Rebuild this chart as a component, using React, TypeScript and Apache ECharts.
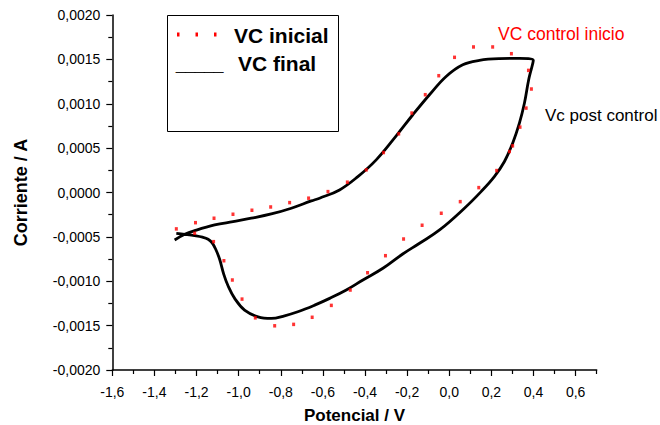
import React, { useEffect, useRef } from "react";
import * as echarts from "echarts";

// VC inicial (red dotted curve): potential (V) and current (A)
const potencialInicial = [
  -1.296, -1.205, -1.117, -1.027, -0.937, -0.848, -0.758, -0.668, -0.576, -0.484,
  -0.394, -0.312, -0.24, -0.178, -0.114, -0.05, 0.025, 0.115, 0.206, 0.295,
  0.376, 0.39, 0.365, 0.336, 0.301, 0.286, 0.225, 0.14, 0.052, -0.038,
  -0.129, -0.217, -0.303, -0.388, -0.47, -0.56, -0.651, -0.739, -0.829, -0.921,
  -0.984, -1.03, -1.07, -1.119, -1.209,
];
const corrienteInicial = [
  -0.00041, -0.00034, -0.00029, -0.000245, -0.0002, -0.000163, -0.000114, -0.000064, 0.00001, 0.000116,
  0.000255, 0.00045, 0.000661, 0.000895, 0.001102, 0.001316, 0.001523, 0.00164, 0.00164, 0.001564,
  0.001376, 0.001166, 0.000951, 0.000737, 0.000526, 0.000462, 0.000247, 0.000055, -0.000103, -0.000234,
  -0.000369, -0.000524, -0.000712, -0.000904, -0.001099, -0.001272, -0.001406, -0.001486, -0.001502, -0.001412,
  -0.001201, -0.000986, -0.000769, -0.000554, -0.000459,
];

// VC final (black solid curve)
const potencialFinal = [
  -1.304, -1.256, -1.209, -1.114, -1.027, -0.94, -0.845, -0.75, -0.655, -0.616,
  -0.521, -0.434, -0.347, -0.252, -0.173, -0.094, -0.015, 0.064, 0.143, 0.238,
  0.333, 0.399, 0.377, 0.357, 0.333, 0.301, 0.262, 0.214, 0.151, 0.072,
  -0.046, -0.141, -0.221, -0.315, -0.41, -0.489, -0.568, -0.639, -0.719, -0.782,
  -0.845, -0.908, -0.972, -1.019, -1.05, -1.071, -1.09, -1.108, -1.126, -1.145,
  -1.172, -1.209, -1.256, -1.296,
];
const corrienteFinal = [
  -0.000535, -0.000471, -0.00043, -0.000366, -0.000328, -0.00029, -0.000242, -0.000177, -0.000095, -0.000064,
  0.000029, 0.000179, 0.000368, 0.000639, 0.000876, 0.001101, 0.001308, 0.00144, 0.001489, 0.001508,
  0.001511, 0.001489, 0.001271, 0.001008, 0.000782, 0.000556, 0.000349, 0.000179, 0.00001, -0.000177,
  -0.000422, -0.000572, -0.000693, -0.000854, -0.000986, -0.001099, -0.001193, -0.001269, -0.001344, -0.001389,
  -0.001419, -0.001401, -0.001325, -0.001193, -0.001054, -0.000919, -0.000755, -0.000645, -0.000568, -0.000527,
  -0.000503, -0.000486, -0.000471, -0.00046,
];

// Axis ticks
const xMajorTicks = [-1.6, -1.4, -1.2, -1.0, -0.8, -0.6, -0.4, -0.2, 0.0, 0.2, 0.4, 0.6];
const xMinorTicks = [-1.5, -1.3, -1.1, -0.9, -0.7, -0.5, -0.3, -0.1, 0.1, 0.3, 0.5, 0.7];
const xMin = -1.6;
const xMax = 0.7;
const yMin = -0.002;
const yMax = 0.002;
const yInterval = 0.0005;

const legendTexts = ["VC inicial", "VC final"];
const annotationInicio = "VC control inicio";
const annotationPost = "Vc post control";

const FONT = "'Liberation Sans', Arial, Helvetica, sans-serif";

export default function App() {
  const ref = useRef<HTMLDivElement>(null);

  useEffect(() => {
    if (!ref.current) return;
    const chart = echarts.init(ref.current, undefined, { renderer: "svg" });

    const inicialData = potencialInicial.map((v, i) => [v, corrienteInicial[i]]);
    const finalData = potencialFinal.map((v, i) => [v, corrienteFinal[i]]);

    const fmtX = (v: number) => v.toFixed(1).replace(".", ",");
    const fmtY = (v: number) => v.toFixed(4).replace(".", ",");

    chart.setOption({
      animation: false,
      backgroundColor: "#ffffff",
      grid: {
        left: 112.3,
        right: 63.3,
        top: 15,
        bottom: 55,
        containLabel: false,
        outerBoundsMode: "none",
      },
      xAxis: [
        {
          type: "value",
          min: xMin,
          max: xMax,
          name: "Potencial / V",
          nameLocation: "middle",
          nameGap: 37,
          nameMoveOverlap: false,
          nameTextStyle: { fontFamily: FONT, fontSize: 17, fontWeight: "bold", color: "#000" },
          axisLine: { show: true, onZero: false, lineStyle: { color: "#000", width: 1.5 } },
          axisTick: { show: true, length: 6, customValues: xMajorTicks, lineStyle: { color: "#000", width: 1.2 } },
          axisLabel: {
            customValues: xMajorTicks,
            formatter: (v: number) => fmtX(v),
            margin: 15,
            fontFamily: FONT,
            fontSize: 14,
            color: "#000",
          },
          splitLine: { show: false },
        },
        {
          type: "value",
          min: xMin,
          max: xMax,
          position: "bottom",
          axisLine: { show: false, onZero: false },
          axisTick: { show: true, length: 4, customValues: xMinorTicks, lineStyle: { color: "#000", width: 1.2 } },
          axisLabel: { show: false },
          splitLine: { show: false },
        },
      ],
      yAxis: {
        type: "value",
        min: yMin,
        max: yMax,
        interval: yInterval,
        name: "Corriente / A",
        nameLocation: "middle",
        nameGap: 82,
        nameMoveOverlap: false,
        nameTextStyle: { fontFamily: FONT, fontSize: 18, fontWeight: "bold", color: "#000" },
        axisLine: { show: true, onZero: false, lineStyle: { color: "#000", width: 1.5 } },
        axisTick: { show: true, length: 6, lineStyle: { color: "#000", width: 1.2 } },
        minorTick: { show: true, splitNumber: 2, length: 4, lineStyle: { color: "#000", width: 1.2 } },
        axisLabel: {
          formatter: (v: number) => fmtY(v),
          margin: 12,
          fontFamily: FONT,
          fontSize: 14,
          color: "#000",
        },
        splitLine: { show: false },
      },
      series: [
        {
          name: legendTexts[0],
          type: "scatter",
          xAxisIndex: 0,
          data: inicialData,
          symbol: "rect",
          symbolSize: [3, 3.5],
          itemStyle: { color: "#ff0000" },
          z: 3,
        },
        {
          name: legendTexts[1],
          type: "line",
          xAxisIndex: 0,
          data: finalData,
          smooth: 0.4,
          showSymbol: false,
          symbol: "none",
          lineStyle: { color: "#000", width: 2.8 },
          z: 2,
        },
      ],
      graphic: [
        {
          type: "rect",
          shape: { x: 167.5, y: 15.5, width: 171, height: 116 },
          style: { fill: "none", stroke: "#000", lineWidth: 1 },
        },
        { type: "rect", shape: { x: 177, y: 32.5, width: 2.5, height: 4 }, style: { fill: "#ff0000" } },
        { type: "rect", shape: { x: 195.5, y: 32.5, width: 2.5, height: 4 }, style: { fill: "#ff0000" } },
        { type: "rect", shape: { x: 214, y: 32.5, width: 2.5, height: 4 }, style: { fill: "#ff0000" } },
        {
          type: "text",
          x: 234,
          y: 35.5,
          style: {
            text: legendTexts[0],
            font: `bold 21px ${FONT}`,
            fill: "#000",
            align: "left",
            verticalAlign: "middle",
          },
        },
        {
          type: "text",
          x: 176,
          y: 65.5,
          style: {
            text: "_____",
            font: `bold 17px ${FONT}`,
            fill: "#000",
            stroke: "#000",
            lineWidth: 0.4,
            align: "left",
            verticalAlign: "middle",
          },
        },
        {
          type: "text",
          x: 238,
          y: 63,
          style: {
            text: legendTexts[1],
            font: `bold 21px ${FONT}`,
            fill: "#000",
            align: "left",
            verticalAlign: "middle",
          },
        },
        {
          type: "text",
          x: 498,
          y: 34,
          style: {
            text: annotationInicio,
            font: `17.5px ${FONT}`,
            fill: "#ff0000",
            align: "left",
            verticalAlign: "middle",
          },
        },
        {
          type: "text",
          x: 545,
          y: 115.5,
          style: {
            text: annotationPost,
            font: `17px ${FONT}`,
            fill: "#000",
            align: "left",
            verticalAlign: "middle",
          },
        },
      ],
    });

    return () => {
      chart.dispose();
    };
  }, []);

  return (
    <div
      ref={ref}
      style={{ position: "fixed", left: 0, top: 0, width: 660, height: 425, background: "#fff" }}
    />
  );
}
